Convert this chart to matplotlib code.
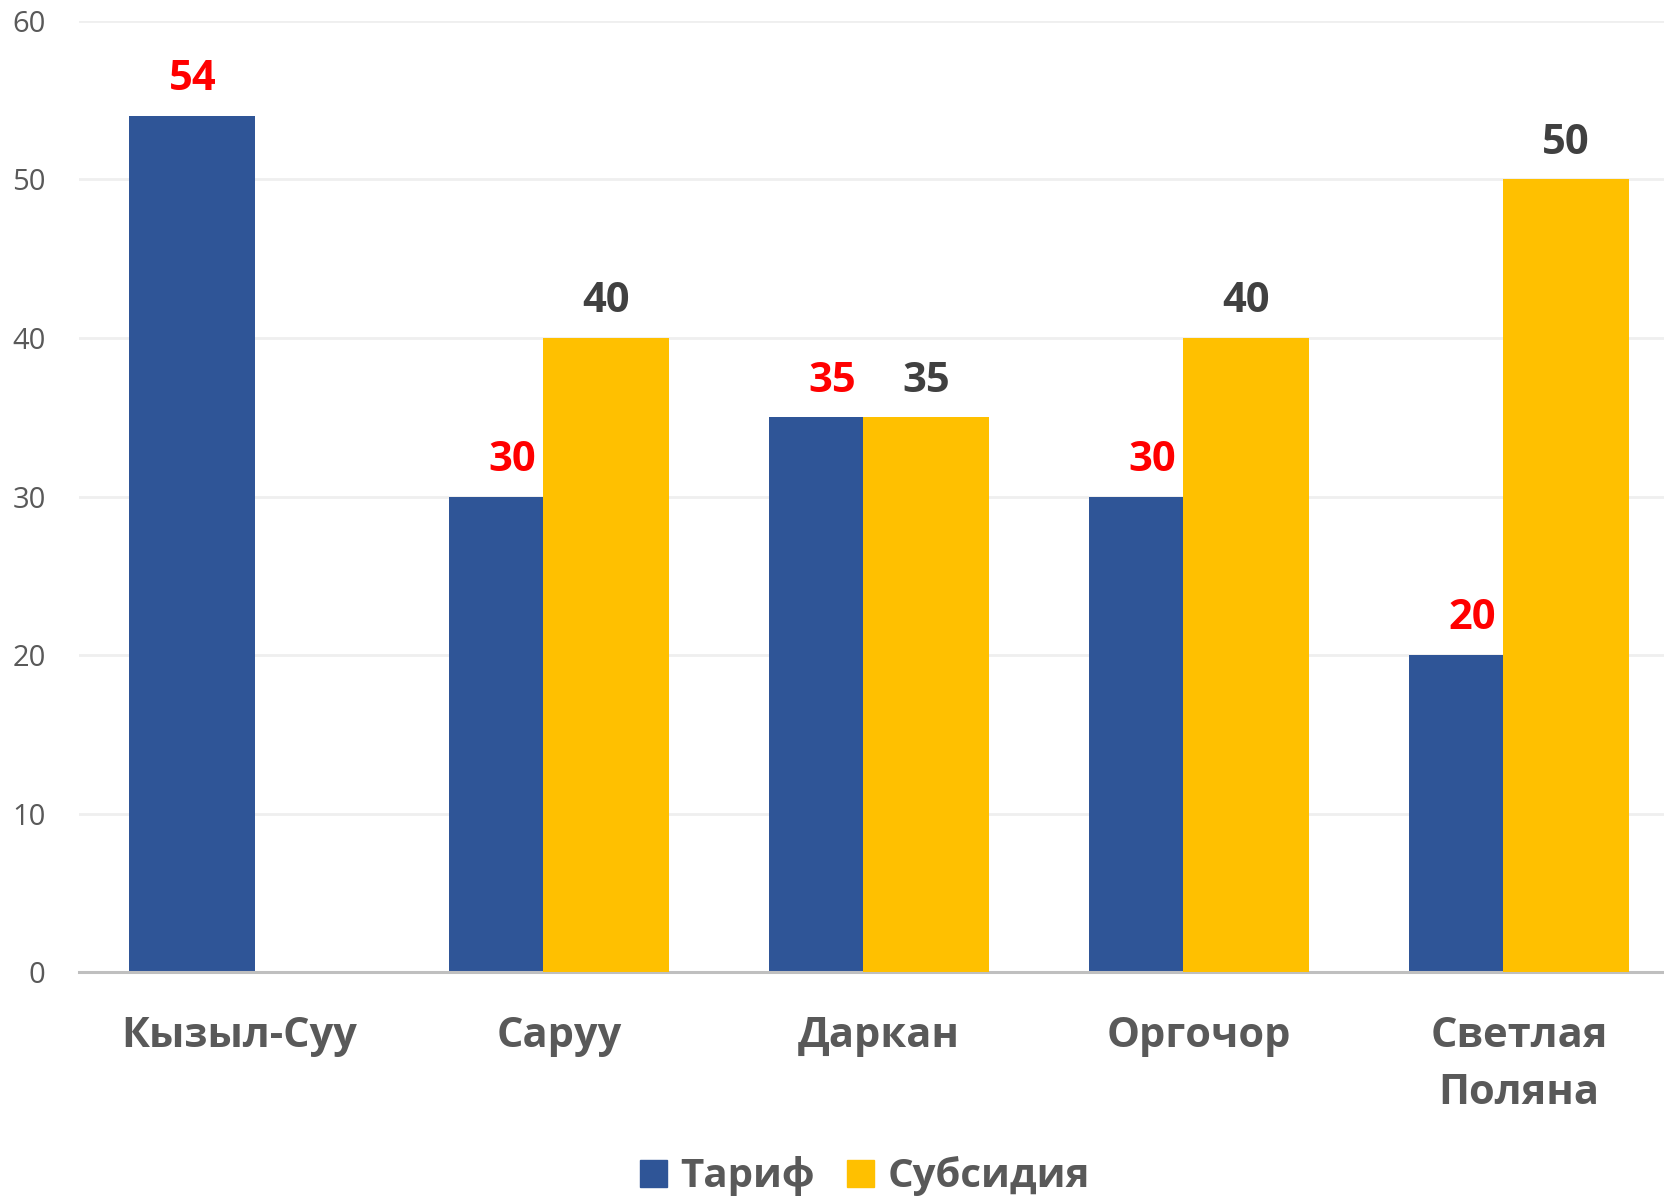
import matplotlib.pyplot as plt
import numpy as np
from matplotlib.patches import Patch

plt.rcParams["font.family"] = ["Open Sans", "DejaVu Sans"]

categories = ["Кызыл-Суу", "Саруу", "Даркан", "Оргочор", "Светлая\nПоляна"]
tariff = [54, 30, 35, 30, 20]
subsidy = [None, 40, 35, 40, 50]

blue = "#2F5597"
yellow = "#FFC000"

fig = plt.figure(figsize=(16.64, 11.99), dpi=100)
ax = fig.add_axes([0.0475, 0.1893, 0.9525, 0.7932])

x = np.arange(len(categories))
width = 0.394
offset = 0.146

ax.bar(x - offset, tariff, width, color=blue, zorder=2)
sub_x = [xi + offset for xi, v in zip(x, subsidy) if v is not None]
sub_v = [v for v in subsidy if v is not None]
ax.bar(sub_x, sub_v, width, color=yellow, zorder=3)

# data labels
for xi, v in zip(x, tariff):
    ax.annotate(str(v), (xi - offset, v), xytext=(0, 26), textcoords="offset points",
                ha="center", va="center", fontsize=30, fontweight="bold", color="#FF0000")
for xi, v in zip(sub_x, sub_v):
    ax.annotate(str(v), (xi, v), xytext=(0, 26), textcoords="offset points",
                ha="center", va="center", fontsize=30, fontweight="bold", color="#404040")

ax.set_ylim(0, 60)
ax.set_xlim(-0.5, 4.453)
ax.set_yticks(range(0, 61, 10))
ax.yaxis.grid(True, color="#EFEFEF", linewidth=2, zorder=0)
ax.set_axisbelow(True)

for s in ["top", "right", "left"]:
    ax.spines[s].set_visible(False)
ax.spines["bottom"].set_color("#BFBFBF")
ax.spines["bottom"].set_linewidth(2.2)

ax.set_xticks(x)
ax.set_xticklabels(categories, fontsize=30, fontweight="bold", color="#595959",
                   linespacing=1.5)
ax.tick_params(axis="x", length=0, pad=32)
ax.tick_params(axis="y", length=0, pad=24, labelsize=21, labelcolor="#595959")

handles = [Patch(color=blue, label="Тариф"), Patch(color=yellow, label="Субсидия")]
leg = fig.legend(handles=handles, loc="center", bbox_to_anchor=(0.52, 0.019), ncol=2,
                 frameon=False, handlelength=0.65, handleheight=0.65, handletextpad=0.35,
                 columnspacing=0.8, prop={"size": 29, "weight": "bold"})
for t in leg.get_texts():
    t.set_color("#595959")

fig.savefig("out.png", dpi=100)
